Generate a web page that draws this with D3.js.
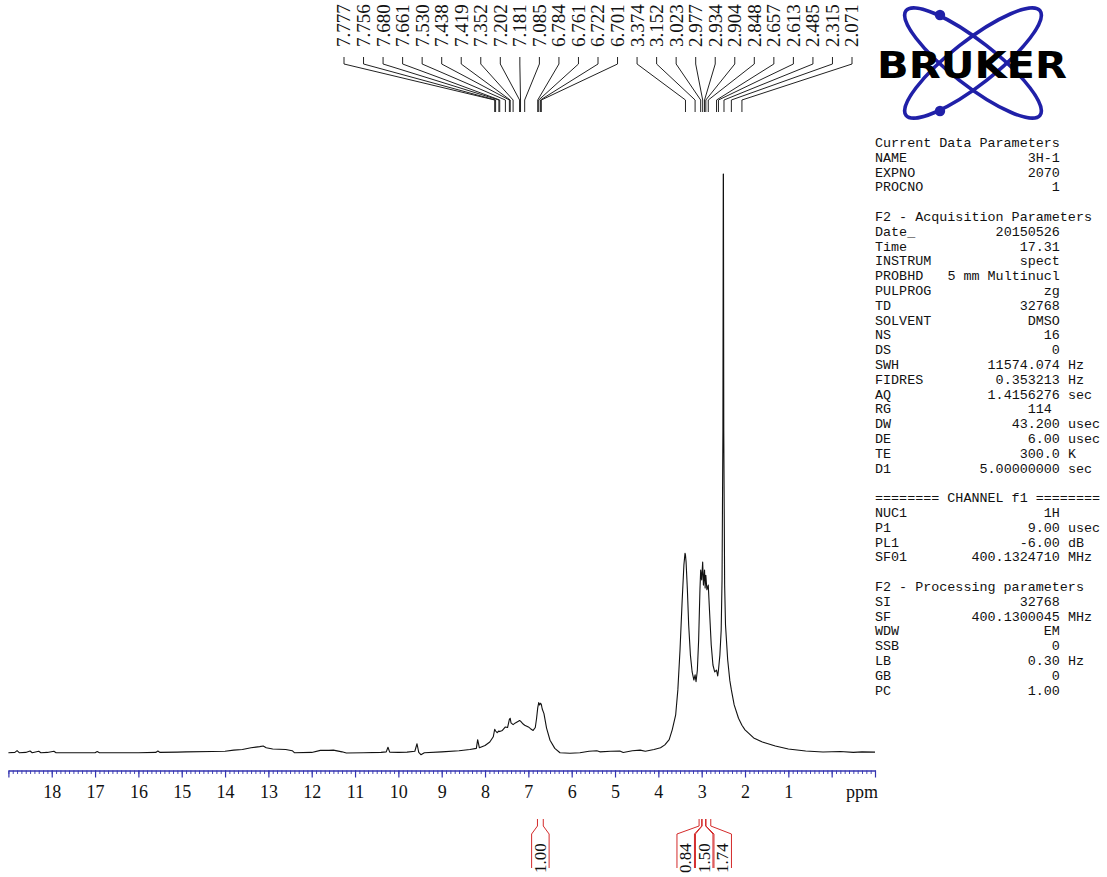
<!DOCTYPE html>
<html>
<head>
<meta charset="utf-8">
<script src="https://cdn.jsdelivr.net/npm/d3@7"></script>
<style>
  html, body { margin: 0; padding: 0; background: #fff; }
  svg { display: block; }
  .mono { font-family: "Liberation Mono", "DejaVu Sans Mono", monospace; font-size: 13.4px; white-space: pre; }
  .serif { font-family: "Liberation Serif", "DejaVu Serif", serif; }
</style>
</head>
<body>
<svg id="chart" width="1107" height="877"></svg>
<script>
// 1H NMR spectrum (400 MHz, DMSO), chemical shift in ppm vs relative intensity
const spectrumPpm = [
  19.0, 18.85, 18.8, 18.75, 18.6, 18.5, 18.45, 18.3, 18.25, 18.1, 17.95, 17.9,
  17.0, 16.95, 16.9, 16.0, 15.6, 15.55, 15.5, 15.1, 14.9, 14.3, 14.0, 13.8,
  13.6, 13.4, 13.2, 13.12, 13.05, 12.9, 12.6, 12.45, 12.4, 12.0, 11.8, 11.6,
  11.5, 11.3, 11.2, 10.8, 10.4, 10.28, 10.24, 10.2, 10.0, 9.8, 9.62, 9.57,
  9.53, 9.48, 9.4, 9.0, 8.6, 8.35, 8.2, 8.17, 8.13, 8.0, 7.89, 7.81,
  7.777, 7.756, 7.72, 7.68, 7.661, 7.6, 7.53, 7.48, 7.438, 7.419, 7.40, 7.352,
  7.30, 7.25, 7.202, 7.181, 7.12, 7.085, 7.0, 6.95, 6.89, 6.84, 6.81, 6.784,
  6.761, 6.74, 6.722, 6.701, 6.68, 6.64, 6.58, 6.50, 6.39, 6.27, 6.04, 5.81,
  5.6, 5.42, 5.35, 5.1, 4.89, 4.81, 4.6, 4.42, 4.3, 4.1, 3.95, 3.85,
  3.75, 3.68, 3.6, 3.55, 3.5, 3.45, 3.41, 3.385, 3.374, 3.36, 3.33, 3.30,
  3.26, 3.22, 3.18, 3.152, 3.13, 3.10, 3.07, 3.04, 3.023, 3.00, 2.977, 2.96,
  2.934, 2.92, 2.904, 2.88, 2.848, 2.82, 2.78, 2.74, 2.70, 2.657, 2.63, 2.613,
  2.58, 2.55, 2.53, 2.51, 2.502, 2.498, 2.49, 2.47, 2.45, 2.40, 2.35, 2.315,
  2.25, 2.15, 2.071, 2.0, 1.8, 1.6, 1.3, 1.0, 0.6, 0.2, -0.2, -0.5,
  -0.7, -1.0
];
const spectrumIntensity = [
  0.05, 0.1, 0.4, 0.05, 0.1, 0.35, 0.05, 0.3, 0.05, 0.1, 0.3, 0.05,
  0.05, 0.25, 0.05, 0.05, 0.1, 0.35, 0.1, 0.15, 0.2, 0.25, 0.3, 0.5,
  0.6, 0.9, 1.1, 1.2, 0.9, 0.7, 0.6, 0.4, 0.05, 0.1, 0.45, 0.45,
  0.5, 0.2, 0.0, 0.05, 0.1, 0.2, 1.0, 0.15, 0.1, 0.15, 0.3, 1.6,
  0.1, -0.3, 0.05, 0.2, 0.4, 0.6, 0.8, 2.3, 0.9, 1.3, 1.9, 2.8,
  4.1, 3.8, 3.5, 3.8, 3.7, 3.9, 4.5, 4.4, 5.8, 6.0, 5.2, 4.9,
  5.2, 5.4, 5.6, 5.5, 5.0, 4.8, 4.5, 4.2, 3.9, 4.4, 6.0, 7.8,
  8.7, 8.3, 8.6, 8.4, 7.6, 6.8, 4.3, 2.2, 0.8, 0.05, -0.05, 0.05,
  0.3, 0.4, 0.2, 0.3, 0.35, 0.1, 0.4, 0.5, 0.3, 0.6, 0.9, 1.4,
  2.3, 4.0, 6.6, 10.9, 17.8, 26.4, 32.5, 34.5, 34.2, 33.0, 28.2, 22.1,
  16.9, 14.0, 12.6, 13.5, 12.3, 14.3, 19.5, 28.2, 31.6, 29.9, 33.0, 29.0,
  31.6, 28.5, 30.7, 28.2, 29.0, 24.7, 18.7, 15.2, 14.0, 14.3, 13.3, 14.3,
  16.9, 21.2, 29.9, 55.8, 100, 100, 55.8, 29.0, 22.1, 16.1, 12.5, 10.9,
  8.3, 6.0, 4.8, 4.0, 2.6, 1.9, 1.2, 0.7, 0.35, 0.17, 0.26, 0.1,
  0.2, 0.15
];

// picked peaks (ppm)
const peakShifts = [
  7.777, 7.756, 7.680, 7.661, 7.530, 7.438, 7.419, 7.352, 7.202, 7.181,
  7.085, 6.784, 6.761, 6.722, 6.701, 3.374, 3.152, 3.023, 2.977, 2.934,
  2.904, 2.848, 2.657, 2.613, 2.485, 2.315, 2.071
];

// integration regions (ppm) and their values
const integralRanges = [[6.79, 6.656], [3.06, 3.00], [2.99, 2.91], [2.90, 2.79]];
const integralValues = ["1.00", "0.84", "1.50", "1.74"];

// axis: labelled major ticks
const axisLabels = d3.range(1, 19);

// acquisition / processing parameter listing
const paramRows = [
  ["Current Data Parameters"],
  ["NAME", "3H-1"],
  ["EXPNO", "2070"],
  ["PROCNO", "1"],
  [],
  ["F2 - Acquisition Parameters"],
  ["Date_", "20150526"],
  ["Time", "17.31"],
  ["INSTRUM", "spect"],
  ["PROBHD", "5 mm Multinucl"],
  ["PULPROG", "zg"],
  ["TD", "32768"],
  ["SOLVENT", "DMSO"],
  ["NS", "16"],
  ["DS", "0"],
  ["SWH", "11574.074", "Hz"],
  ["FIDRES", "0.353213", "Hz"],
  ["AQ", "1.4156276", "sec"],
  ["RG", "114 "],
  ["DW", "43.200", "usec"],
  ["DE", "6.00", "usec"],
  ["TE", "300.0", "K"],
  ["D1", "5.00000000", "sec"],
  [],
  ["======== CHANNEL f1 ========"],
  ["NUC1", "1H"],
  ["P1", "9.00", "usec"],
  ["PL1", "-6.00", "dB"],
  ["SF01", "400.1324710", "MHz"],
  [],
  ["F2 - Processing parameters"],
  ["SI", "32768"],
  ["SF", "400.1300045", "MHz"],
  ["WDW", "EM"],
  ["SSB", "0"],
  ["LB", "0.30", "Hz"],
  ["GB", "0"],
  ["PC", "1.00"]
];

const svg = d3.select("#chart");
const axisBlue = "#3434b0";
const intRed = "#d42a2a";

const x = d3.scaleLinear().domain([19, -1]).range([8.4, 875]);
const y = d3.scaleLinear().domain([0, 100]).range([753, 174]);

// ---- spectrum trace ----
const pts = spectrumPpm.map((p, i) => [p, spectrumIntensity[i]]);
svg.append("path")
  .datum(pts)
  .attr("fill", "none")
  .attr("stroke", "#111")
  .attr("stroke-width", 1.1)
  .attr("stroke-linejoin", "round")
  .attr("d", d3.line().x(d => x(d[0])).y(d => y(d[1])));

// ---- ppm axis ----
const axisY = 770.5;
const minorAxis = d3.axisBottom(x)
  .tickValues(d3.range(-10, 191).map(d => d / 10))
  .tickSize(3.5).tickSizeOuter(0).tickFormat("");
const gMinor = svg.append("g").attr("transform", `translate(0,${axisY})`).call(minorAxis);
gMinor.select(".domain").attr("stroke", axisBlue).attr("stroke-width", 1.3);
gMinor.selectAll(".tick line").attr("stroke", axisBlue).attr("stroke-width", 0.9);

const majorAxis = d3.axisBottom(x)
  .tickValues(d3.range(-1, 20))
  .tickSize(7).tickSizeOuter(0).tickPadding(7.7)
  .tickFormat(d => axisLabels.includes(d) ? String(d) : "");
const gMajor = svg.append("g").attr("transform", `translate(0,${axisY})`).call(majorAxis);
gMajor.select(".domain").remove();
gMajor.selectAll(".tick line").attr("stroke", axisBlue).attr("stroke-width", 1.2);
gMajor.selectAll(".tick text")
  .attr("class", "serif")
  .attr("font-family", "Liberation Serif, DejaVu Serif, serif")
  .attr("font-size", 18)
  .attr("fill", "#111");

svg.append("text")
  .attr("class", "serif")
  .attr("x", 846).attr("y", 798)
  .attr("font-size", 18).attr("fill", "#111")
  .text("ppm");

// ---- peak labels with leader lines ----
const labelX = d3.scalePoint().domain(d3.range(peakShifts.length)).range([344, 852]);
const gPeaks = svg.append("g");
peakShifts.forEach((p, i) => {
  const lx = labelX(i), px = x(p);
  gPeaks.append("path")
    .attr("fill", "none").attr("stroke", "#222").attr("stroke-width", 1)
    .attr("d", d3.line()([[lx, 57], [lx, 64], [px, 100], [px, 112]]));
  gPeaks.append("text")
    .attr("class", "serif")
    .attr("transform", `translate(${lx},47) rotate(-90)`)
    .attr("dy", "0.34em")
    .attr("font-size", 19).attr("fill", "#111")
    .text(p.toFixed(3));
});

// ---- integrals ----
const boxW = 18.5;
const mids = integralRanges.map(r => x((r[0] + r[1]) / 2));
// group overlapping labels and spread them evenly around the group centre
const centres = mids.slice();
const groups = [];
mids.forEach((m, i) => {
  const g = groups[groups.length - 1];
  if (g && m - mids[g[g.length - 1]] < boxW) g.push(i); else groups.push([i]);
});
groups.forEach(g => {
  const mean = d3.mean(g, i => mids[i]);
  g.forEach((i, k) => { centres[i] = mean + (k - (g.length - 1) / 2) * boxW; });
});
const gInt = svg.append("g");
integralRanges.forEach((r, i) => {
  const xa = x(r[0]), xb = x(r[1]);
  const bl = centres[i] - boxW / 2 + 0.5, br = centres[i] + boxW / 2 - 0.5;
  const line = d3.line();
  gInt.append("path").attr("fill", "none").attr("stroke", intRed).attr("stroke-width", 1)
    .attr("d", line([[xa, 819], [xa, 826], [bl, 834], [bl, 868]]));
  gInt.append("path").attr("fill", "none").attr("stroke", intRed).attr("stroke-width", 1)
    .attr("d", line([[xb, 819], [xb, 826], [br, 834], [br, 868]]));
  gInt.append("text")
    .attr("class", "serif")
    .attr("transform", `translate(${centres[i]},873) rotate(-90)`)
    .attr("dy", "0.34em")
    .attr("font-size", 17).attr("fill", "#111")
    .text(integralValues[i]);
});

// ---- Bruker logo ----
const logo = svg.append("g");
const logoBlue = "#2020a8";
[38, -38].forEach(a => {
  logo.append("ellipse")
    .attr("cx", 0).attr("cy", 0).attr("rx", 85).attr("ry", 22)
    .attr("transform", `translate(973,63) rotate(${a})`)
    .attr("fill", "none").attr("stroke", logoBlue).attr("stroke-width", 3.6);
});
[[940, 15], [940, 111]].forEach(c => {
  logo.append("circle").attr("cx", c[0]).attr("cy", c[1]).attr("r", 5.2).attr("fill", logoBlue);
});
logo.append("text")
  .attr("x", 877).attr("y", 78)
  .attr("font-family", "DejaVu Sans, Liberation Sans, sans-serif")
  .attr("font-weight", "bold").attr("font-size", 38)
  .attr("textLength", 190).attr("lengthAdjust", "spacingAndGlyphs")
  .attr("fill", "#000")
  .text("BRUKER");

// ---- parameter listing ----
const cw = 8.04, x0 = 875, row0 = 147, rowH = 14.8;
const gPar = svg.append("g").attr("fill", "#111");
paramRows.forEach((row, i) => {
  if (!row.length) return;
  const yy = row0 + i * rowH;
  gPar.append("text").attr("class", "mono").attr("x", x0).attr("y", yy).text(row[0]);
  if (row[1] !== undefined) {
    gPar.append("text").attr("class", "mono").attr("x", x0 + 23 * cw).attr("y", yy)
      .attr("text-anchor", "end").text(row[1]);
  }
  if (row[2] !== undefined) {
    gPar.append("text").attr("class", "mono").attr("x", x0 + 24 * cw).attr("y", yy).text(row[2]);
  }
});
</script>
</body>
</html>
